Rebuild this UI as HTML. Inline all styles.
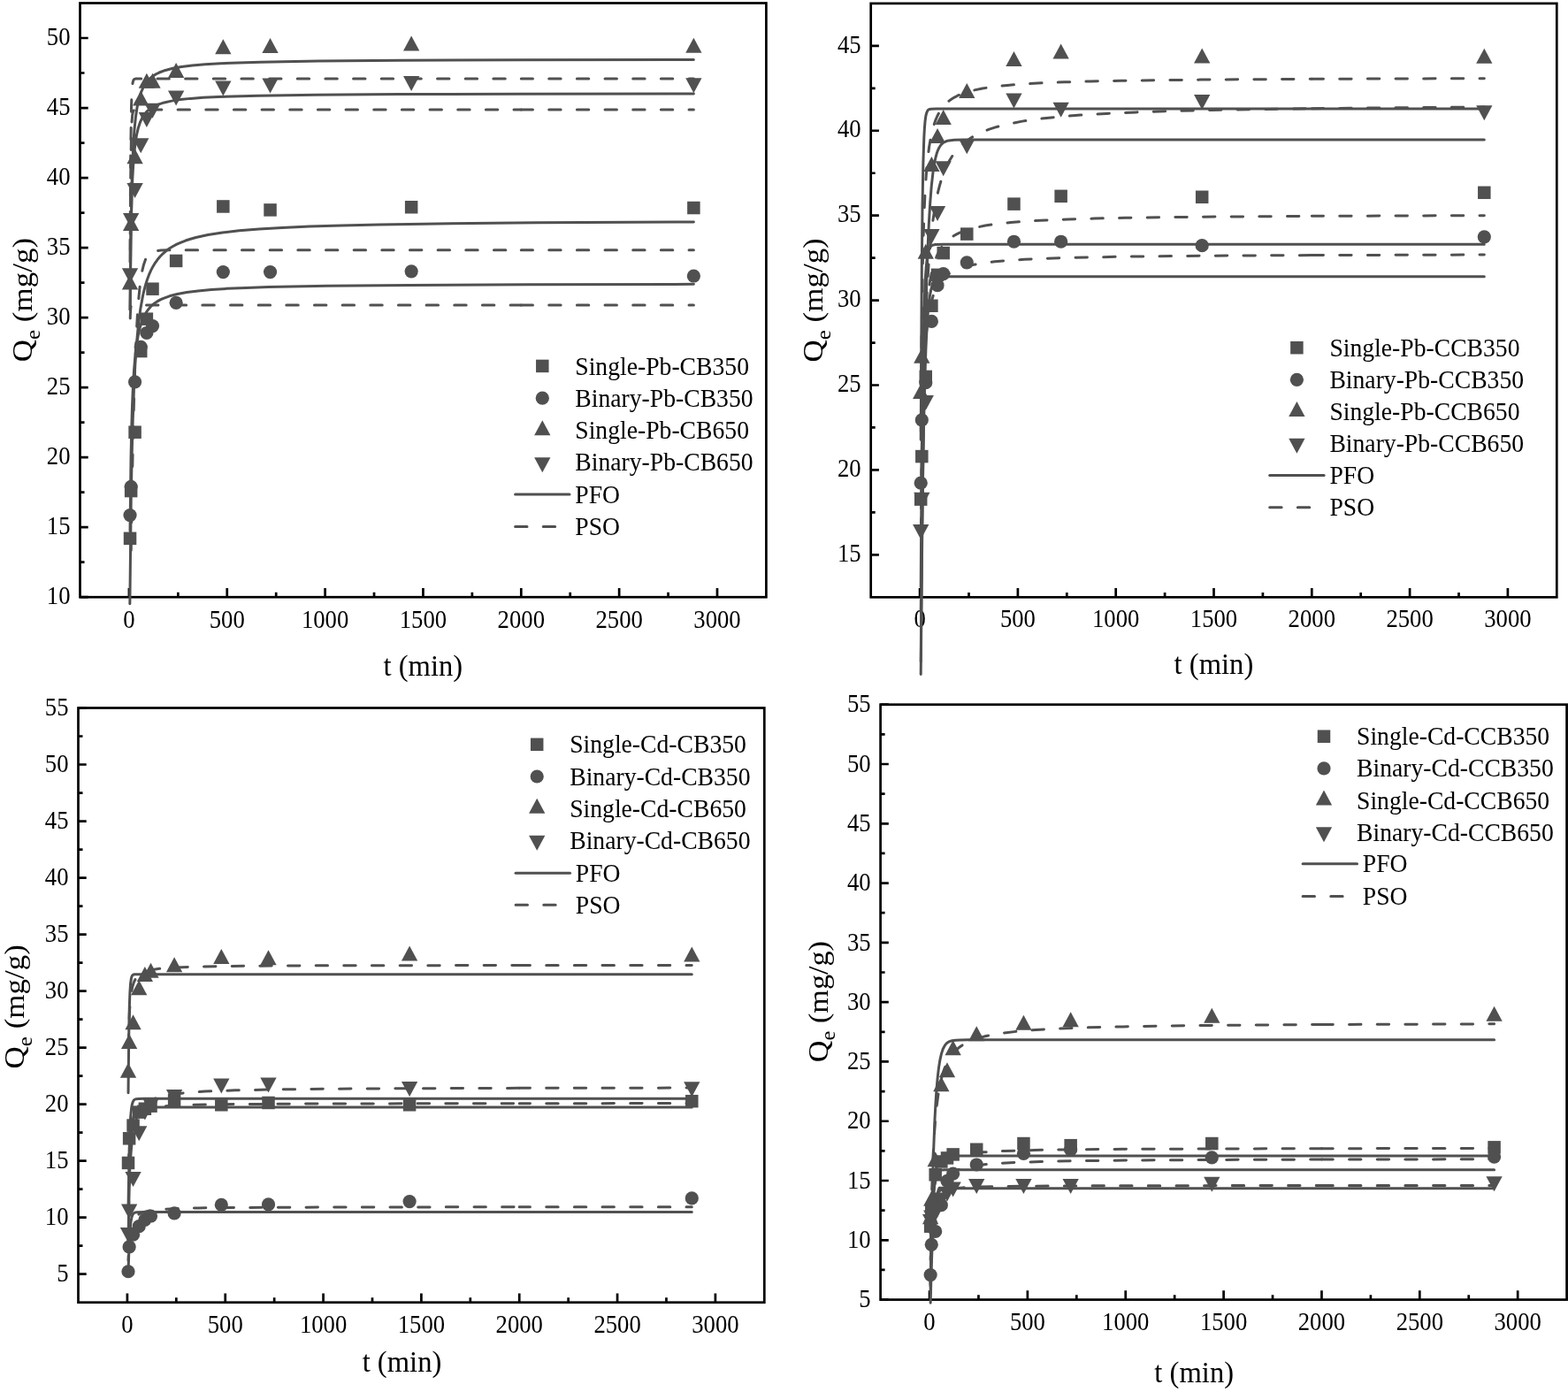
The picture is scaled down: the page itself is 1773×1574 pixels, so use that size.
<!DOCTYPE html>
<html><head><meta charset="utf-8"><title>Kinetics</title><style>html,body{margin:0;padding:0;background:#fff;}svg{display:block;}</style></head><body>
<svg width="1773" height="1574" viewBox="0 0 1773 1574" font-family="&quot;Liberation Serif&quot;, &quot;Times New Roman&quot;, serif" fill="#000">
<rect width="100%" height="100%" fill="#fff"/>
<rect x="90.5" y="3.5" width="775.9" height="671.7" fill="none" stroke="#000" stroke-width="2.7"/>
<path d="M145.92 675.2V664.9M256.76 675.2V664.9M367.61 675.2V664.9M478.45 675.2V664.9M589.29 675.2V664.9M700.14 675.2V664.9M810.98 675.2V664.9M201.34 675.2V669.8M312.19 675.2V669.8M423.03 675.2V669.8M533.87 675.2V669.8M644.71 675.2V669.8M755.56 675.2V669.8M90.5 675.2H99.7M90.5 596.18H99.7M90.5 517.15H99.7M90.5 438.13H99.7M90.5 359.11H99.7M90.5 280.08H99.7M90.5 201.06H99.7M90.5 122.04H99.7M90.5 43.01H99.7M90.5 635.69H95.5M90.5 556.66H95.5M90.5 477.64H95.5M90.5 398.62H95.5M90.5 319.59H95.5M90.5 240.57H95.5M90.5 161.55H95.5M90.5 82.52H95.5" stroke="#000" stroke-width="2.7" fill="none"/>
<text transform="translate(145.92 709.5) scale(0.92 1)" font-size="29" text-anchor="middle">0</text>
<text transform="translate(256.76 709.5) scale(0.92 1)" font-size="29" text-anchor="middle">500</text>
<text transform="translate(367.61 709.5) scale(0.92 1)" font-size="29" text-anchor="middle">1000</text>
<text transform="translate(478.45 709.5) scale(0.92 1)" font-size="29" text-anchor="middle">1500</text>
<text transform="translate(589.29 709.5) scale(0.92 1)" font-size="29" text-anchor="middle">2000</text>
<text transform="translate(700.14 709.5) scale(0.92 1)" font-size="29" text-anchor="middle">2500</text>
<text transform="translate(810.98 709.5) scale(0.92 1)" font-size="29" text-anchor="middle">3000</text>
<text transform="translate(79.5 682.9) scale(0.92 1)" font-size="29" text-anchor="end">10</text>
<text transform="translate(79.5 603.88) scale(0.92 1)" font-size="29" text-anchor="end">15</text>
<text transform="translate(79.5 524.85) scale(0.92 1)" font-size="29" text-anchor="end">20</text>
<text transform="translate(79.5 445.83) scale(0.92 1)" font-size="29" text-anchor="end">25</text>
<text transform="translate(79.5 366.81) scale(0.92 1)" font-size="29" text-anchor="end">30</text>
<text transform="translate(79.5 287.78) scale(0.92 1)" font-size="29" text-anchor="end">35</text>
<text transform="translate(79.5 208.76) scale(0.92 1)" font-size="29" text-anchor="end">40</text>
<text transform="translate(79.5 129.74) scale(0.92 1)" font-size="29" text-anchor="end">45</text>
<text transform="translate(79.5 50.71) scale(0.92 1)" font-size="29" text-anchor="end">50</text>
<text transform="translate(478.3 763.9) scale(0.946 1)" font-size="34.5" text-anchor="middle">t (min)</text>
<text transform="translate(36.2 339.1) rotate(-90) scale(1 0.93)" font-size="35" text-anchor="middle">Q<tspan font-size="25" dy="9.6">e</tspan><tspan dy="-9.6"> (mg/g)</tspan></text>
<path d="M146.85 682.75L148.24 562.25L149.12 515.21L150.15 475.59L151.37 441.64L152.8 412.71L154.48 388.19L156.45 367.38L158.76 349.64L161.5 334.49L163.05 327.77L164.71 321.62L166.52 315.94L168.48 310.72L170.6 305.88L172.9 301.43L175.41 297.31L178.12 293.52L181.05 290.02L184.24 286.79L187.7 283.81L191.45 281.06L195.61 278.47L199.97 276.17L204.72 274.03L209.87 272.05L215.42 270.24L221.56 268.53L235.23 265.55L251.47 262.99L270.49 260.82L292.88 258.97L319.03 257.41L349.93 256.07L386.18 254.94L428.78 253.98L478.9 253.15L607.07 251.86L784.38 250.92" fill="none" stroke="#505050" stroke-width="3.0" stroke-linecap="round" stroke-linejoin="round"/>
<path d="M147.03 600.45L148.04 518.54L148.7 486.59L149.48 460.13L150.42 437.66L151.53 418.88L152.84 403.21L154.41 389.94L156.28 378.78L158.5 369.45L161.16 361.58L162.66 358.15L164.3 354.99L166.09 352.1L168.05 349.44L170.18 347.01L172.5 344.79L175.04 342.75L177.8 340.87L180.82 339.16L184.12 337.58L191.65 334.82L200.56 332.5L211.26 330.54L223.94 328.9L238.99 327.52L256.82 326.37L278.22 325.39L303.57 324.58L369.74 323.31L463.45 322.42L596.18 321.79L784.38 321.34" fill="none" stroke="#505050" stroke-width="3.0" stroke-linecap="round" stroke-linejoin="round"/>
<path d="M147.12 350.5L147.95 263.89L149.15 203.93L149.94 180.91L150.87 162L152.01 146.03L153.36 132.83L154.99 121.8L156.93 112.64L159.26 104.99L162.06 98.59L163.66 95.82L165.42 93.27L167.34 90.94L169.44 88.83L171.75 86.9L174.28 85.12L177.04 83.51L180.07 82.03L187.05 79.45L195.41 77.3L205.31 75.53L217.4 74.02L231.86 72.78L249.1 71.74L269.7 70.88L294.46 70.16L360.03 69.06L454.13 68.29L589.64 67.76L784.38 67.39" fill="none" stroke="#505050" stroke-width="3.0" stroke-linecap="round" stroke-linejoin="round"/>
<path d="M147.1 350.32L147.89 274.61L149.02 222.55L149.77 202.81L150.67 186.5L151.75 172.83L153.04 161.48L154.59 152.04L156.47 144.17L158.73 137.6L161.43 132.16L162.99 129.79L164.68 127.63L166.55 125.65L168.6 123.86L170.84 122.22L173.3 120.72L178.98 118.11L185.81 115.93L194.02 114.12L203.93 112.61L215.62 111.38L229.88 110.34L246.92 109.48L291.89 108.17L357.06 107.25L451.36 106.62L587.66 106.18L784.38 105.88" fill="none" stroke="#505050" stroke-width="3.0" stroke-linecap="round" stroke-linejoin="round"/>
<path d="M147.03 281.94L147.68 176.57L148.54 119.54L149.09 104.68L149.78 95.75L150.2 93.06L150.71 91.2L151.34 90.02L152.19 89.36L153.7 89.06L157.35 89L589.29 89" fill="none" stroke="#505050" stroke-width="3.0" stroke-linecap="round" stroke-linejoin="round" stroke-dasharray="13.4 18.26" stroke-dashoffset="2.54"/>
<path d="M589.29 89L784.38 89" fill="none" stroke="#505050" stroke-width="3.0" stroke-linecap="round" stroke-linejoin="round" stroke-dasharray="13.4 18.26" stroke-dashoffset="0.23"/>
<path d="M147.03 298.97L147.65 204.03L148.49 151.9L149 138.53L149.68 130.23L150.1 127.71L150.59 126.04L151.21 124.98L152.03 124.41L153.49 124.14L157.03 124.09L589.29 124.09" fill="none" stroke="#505050" stroke-width="3.0" stroke-linecap="round" stroke-linejoin="round" stroke-dasharray="13.4 18.26" stroke-dashoffset="28.88"/>
<path d="M589.29 124.09L784.38 124.09" fill="none" stroke="#505050" stroke-width="3.0" stroke-linecap="round" stroke-linejoin="round" stroke-dasharray="13.4 18.26" stroke-dashoffset="0.23"/>
<path d="M148.14 626.82L149.63 533.69L151.28 459.35L153.17 401.25L154.21 377.82L155.33 357.67L156.51 341.1L157.79 327.25L159.19 315.8L160.76 306.43L162.51 299.13L164.49 293.52L165.6 291.26L166.79 289.37L168.1 287.77L169.54 286.45L171.02 285.46L172.66 284.67L176.66 283.58L182.04 283.03L190.66 282.81L589.29 282.77" fill="none" stroke="#505050" stroke-width="3.0" stroke-linecap="round" stroke-linejoin="round" stroke-dasharray="13.4 18.26" stroke-dashoffset="27.23"/>
<path d="M589.29 282.77L784.38 282.77" fill="none" stroke="#505050" stroke-width="3.0" stroke-linecap="round" stroke-linejoin="round" stroke-dasharray="13.4 18.26" stroke-dashoffset="0.23"/>
<path d="M147.03 370.59L147.33 356.46L147.76 348.65L148.04 346.78L148.38 345.73L148.86 345.24L149.68 345.06L589.29 345.04" fill="none" stroke="#505050" stroke-width="3.0" stroke-linecap="round" stroke-linejoin="round" stroke-dasharray="13.4 18.26" stroke-dashoffset="21"/>
<path d="M589.29 345.04L784.38 345.04" fill="none" stroke="#505050" stroke-width="3.0" stroke-linecap="round" stroke-linejoin="round" stroke-dasharray="13.4 18.26" stroke-dashoffset="0.23"/>
<g fill="#505050"><rect x="139.78" y="601.57" width="14.5" height="14.5"/><rect x="140.89" y="547.83" width="14.5" height="14.5"/><rect x="145.32" y="481.45" width="14.5" height="14.5"/><rect x="151.97" y="389.79" width="14.5" height="14.5"/><rect x="158.62" y="353.44" width="14.5" height="14.5"/><rect x="165.27" y="319.46" width="14.5" height="14.5"/><rect x="191.88" y="287.69" width="14.5" height="14.5"/><rect x="245.08" y="226.21" width="14.5" height="14.5"/><rect x="298.29" y="230.16" width="14.5" height="14.5"/><rect x="457.9" y="227" width="14.5" height="14.5"/><rect x="777.13" y="227.79" width="14.5" height="14.5"/></g>
<g fill="#505050"><circle cx="147.03" cy="582.58" r="7.6"/><circle cx="148.14" cy="550.34" r="7.6"/><circle cx="152.57" cy="431.81" r="7.6"/><circle cx="159.22" cy="392.3" r="7.6"/><circle cx="165.87" cy="376.49" r="7.6"/><circle cx="172.52" cy="368.59" r="7.6"/><circle cx="199.13" cy="342.35" r="7.6"/><circle cx="252.33" cy="307.58" r="7.6"/><circle cx="305.54" cy="307.58" r="7.6"/><circle cx="465.15" cy="306.79" r="7.6"/><circle cx="784.38" cy="312.01" r="7.6"/></g>
<g fill="#505050"><path d="M147.03 310.39L156.18 327.39L137.88 327.39Z"/><path d="M148.14 244.01L157.29 261.01L138.99 261.01Z"/><path d="M152.57 168.15L161.72 185.15L143.42 185.15Z"/><path d="M159.22 102.4L168.37 119.4L150.07 119.4Z"/><path d="M165.87 82.81L175.02 99.81L156.72 99.81Z"/><path d="M172.52 82.81L181.67 99.81L163.37 99.81Z"/><path d="M199.13 70.95L208.28 87.95L189.98 87.95Z"/><path d="M252.33 44.24L261.48 61.24L243.18 61.24Z"/><path d="M305.54 42.98L314.69 59.98L296.39 59.98Z"/><path d="M465.15 40.45L474.3 57.45L456 57.45Z"/><path d="M784.38 42.82L793.53 59.82L775.23 59.82Z"/></g>
<g fill="#505050"><path d="M137.88 303.31L156.18 303.31L147.03 320.31Z"/><path d="M138.99 240.88L157.29 240.88L148.14 257.88Z"/><path d="M143.42 206.9L161.72 206.9L152.57 223.9Z"/><path d="M150.07 156.33L168.37 156.33L159.22 173.33Z"/><path d="M156.72 127.09L175.02 127.09L165.87 144.09Z"/><path d="M163.37 116.82L181.67 116.82L172.52 133.82Z"/><path d="M189.98 102.59L208.28 102.59L199.13 119.59Z"/><path d="M243.18 91.53L261.48 91.53L252.33 108.53Z"/><path d="M296.39 88.53L314.69 88.53L305.54 105.53Z"/><path d="M456 86L474.3 86L465.15 103Z"/><path d="M775.23 88.37L793.53 88.37L784.38 105.37Z"/></g>
<g fill="#505050"><rect x="606.05" y="406.65" width="14.5" height="14.5"/></g>
<text transform="translate(650.3 423.5) scale(0.944 1)" font-size="29.3" text-anchor="start">Single-Pb-CB350</text>
<g fill="#505050"><circle cx="613.3" cy="450.2" r="7.6"/></g>
<text transform="translate(650.3 459.8) scale(0.944 1)" font-size="29.3" text-anchor="start">Binary-Pb-CB350</text>
<g fill="#505050"><path d="M613.3 475.17L622.45 492.17L604.15 492.17Z"/></g>
<text transform="translate(650.3 496.1) scale(0.944 1)" font-size="29.3" text-anchor="start">Single-Pb-CB650</text>
<g fill="#505050"><path d="M604.15 517.13L622.45 517.13L613.3 534.13Z"/></g>
<text transform="translate(650.3 532.4) scale(0.944 1)" font-size="29.3" text-anchor="start">Binary-Pb-CB650</text>
<path d="M582.6 559.1H644" stroke="#505050" stroke-width="3.0" stroke-linecap="round"/>
<text transform="translate(650.3 568.7) scale(0.944 1)" font-size="29.3" text-anchor="start">PFO</text>
<path d="M582.6 595.4H644" stroke="#505050" stroke-width="3.0" stroke-linecap="round" stroke-dasharray="13.4 18.26"/>
<text transform="translate(650.3 605) scale(0.944 1)" font-size="29.3" text-anchor="start">PSO</text>
<rect x="984.7" y="3.9" width="775.6" height="671.4" fill="none" stroke="#000" stroke-width="2.7"/>
<path d="M1040.1 675.3V665M1150.9 675.3V665M1261.7 675.3V665M1372.5 675.3V665M1483.3 675.3V665M1594.1 675.3V665M1704.9 675.3V665M1095.5 675.3V669.9M1206.3 675.3V669.9M1317.1 675.3V669.9M1427.9 675.3V669.9M1538.7 675.3V669.9M1649.5 675.3V669.9M984.7 627.34H993.9M984.7 531.43H993.9M984.7 435.51H993.9M984.7 339.6H993.9M984.7 243.69H993.9M984.7 147.77H993.9M984.7 51.86H993.9M984.7 579.39H989.7M984.7 483.47H989.7M984.7 387.56H989.7M984.7 291.64H989.7M984.7 195.73H989.7M984.7 99.81H989.7" stroke="#000" stroke-width="2.7" fill="none"/>
<text transform="translate(1040.1 708.6) scale(0.92 1)" font-size="29" text-anchor="middle">0</text>
<text transform="translate(1150.9 708.6) scale(0.92 1)" font-size="29" text-anchor="middle">500</text>
<text transform="translate(1261.7 708.6) scale(0.92 1)" font-size="29" text-anchor="middle">1000</text>
<text transform="translate(1372.5 708.6) scale(0.92 1)" font-size="29" text-anchor="middle">1500</text>
<text transform="translate(1483.3 708.6) scale(0.92 1)" font-size="29" text-anchor="middle">2000</text>
<text transform="translate(1594.1 708.6) scale(0.92 1)" font-size="29" text-anchor="middle">2500</text>
<text transform="translate(1704.9 708.6) scale(0.92 1)" font-size="29" text-anchor="middle">3000</text>
<text transform="translate(973.7 635.04) scale(0.92 1)" font-size="29" text-anchor="end">15</text>
<text transform="translate(973.7 539.13) scale(0.92 1)" font-size="29" text-anchor="end">20</text>
<text transform="translate(973.7 443.21) scale(0.92 1)" font-size="29" text-anchor="end">25</text>
<text transform="translate(973.7 347.3) scale(0.92 1)" font-size="29" text-anchor="end">30</text>
<text transform="translate(973.7 251.39) scale(0.92 1)" font-size="29" text-anchor="end">35</text>
<text transform="translate(973.7 155.47) scale(0.92 1)" font-size="29" text-anchor="end">40</text>
<text transform="translate(973.7 59.56) scale(0.92 1)" font-size="29" text-anchor="end">45</text>
<text transform="translate(1372.4 762) scale(0.946 1)" font-size="34.5" text-anchor="middle">t (min)</text>
<text transform="translate(930.4 339.4) rotate(-90) scale(1 0.93)" font-size="35" text-anchor="middle">Q<tspan font-size="25" dy="9.6">e</tspan><tspan dy="-9.6"> (mg/g)</tspan></text>
<path d="M1041.21 497.17L1042.35 296.17L1043.04 231.44L1043.87 184.6L1044.82 155.37L1045.39 145.14L1046.03 137.28L1046.77 131.7L1047.65 127.81L1048.73 125.33L1049.39 124.49L1050.17 123.89L1051.31 123.43L1052.84 123.17L1059.12 123.03L1678.31 123.03" fill="none" stroke="#505050" stroke-width="3.0" stroke-linecap="round" stroke-linejoin="round"/>
<path d="M1041.21 762.53L1042.81 594.87L1044.61 461.03L1046.65 357.98L1047.79 316.7L1049.03 281.38L1050.33 252.8L1051.74 229.15L1053.31 209.7L1055.07 194.16L1057.03 182.27L1058.11 177.48L1059.28 173.35L1060.54 169.85L1061.93 166.94L1063.46 164.54L1065.16 162.61L1066.75 161.31L1068.56 160.28L1070.59 159.49L1072.95 158.9L1078.96 158.22L1088.97 157.98L1678.31 157.94" fill="none" stroke="#505050" stroke-width="3.0" stroke-linecap="round" stroke-linejoin="round"/>
<path d="M1041.21 663.74L1041.99 549.02L1042.87 459.73L1043.87 392.65L1045.06 344.57L1046.41 313.35L1047.22 302.04L1048.12 293.39L1049.15 287.07L1050.37 282.49L1051.86 279.47L1052.74 278.43L1053.76 277.64L1055.42 276.93L1057.61 276.53L1066.26 276.3L1678.31 276.3" fill="none" stroke="#505050" stroke-width="3.0" stroke-linecap="round" stroke-linejoin="round"/>
<path d="M1041.21 747.95L1042.36 623.1L1043.66 524.9L1045.14 450.02L1046.87 395.41L1047.82 375.29L1048.86 358.88L1050.01 345.64L1051.31 335.23L1052.78 327.36L1054.48 321.62L1055.44 319.43L1056.51 317.63L1057.71 316.19L1059.05 315.07L1061.5 313.88L1064.69 313.19L1069.1 312.87L1076.78 312.76L1678.31 312.74" fill="none" stroke="#505050" stroke-width="3.0" stroke-linecap="round" stroke-linejoin="round"/>
<path d="M1041.21 501.35L1042.09 383.78L1043.3 300.43L1044.08 267.81L1044.98 240.45L1046.06 217.04L1047.33 197.31L1048.83 180.54L1050.6 166.3L1052.69 154.24L1055.17 143.98L1058.08 135.33L1059.74 131.48L1061.52 127.98L1063.47 124.74L1065.59 121.75L1067.88 119.01L1070.37 116.49L1073.08 114.16L1076.02 112.03L1079.22 110.05L1082.69 108.24L1086.42 106.59L1090.54 105.04L1099.85 102.32L1110.89 100L1123.79 98.06L1139.08 96.4L1157.04 95.01L1178.32 93.82L1203.46 92.81L1232.99 91.96L1267.97 91.24L1358.01 90.11L1483.3 89.3" fill="none" stroke="#505050" stroke-width="3.0" stroke-linecap="round" stroke-linejoin="round" stroke-dasharray="13.4 18.26" stroke-dashoffset="18.22"/>
<path d="M1483.3 89.3L1678.31 88.67" fill="none" stroke="#505050" stroke-width="3.0" stroke-linecap="round" stroke-linejoin="round" stroke-dasharray="13.4 18.26" stroke-dashoffset="0.26"/>
<path d="M1041.21 696.13L1042.59 548.44L1043.44 490L1044.44 439.01L1045.59 394.97L1046.91 357.21L1048.46 324.45L1050.26 295.96L1052.33 271.53L1054.72 250.54L1057.5 232.34L1060.73 216.6L1062.53 209.56L1064.46 203.04L1066.54 197L1068.79 191.34L1071.21 186.09L1073.8 181.23L1076.6 176.71L1079.61 172.5L1082.82 168.63L1086.28 165.02L1090.01 161.67L1094.13 158.47L1098.52 155.54L1103.17 152.85L1108.23 150.33L1113.55 148.04L1119.4 145.87L1125.65 143.86L1132.43 141.98L1139.62 140.26L1155.84 137.14L1174.73 134.44L1196.54 132.12L1221.81 130.11L1251.07 128.38L1284.86 126.89L1324.09 125.6L1369.58 124.49L1422.25 123.53L1483.3 122.7" fill="none" stroke="#505050" stroke-width="3.0" stroke-linecap="round" stroke-linejoin="round" stroke-dasharray="13.4 18.26" stroke-dashoffset="27.73"/>
<path d="M1483.3 122.7L1572 121.83L1678.31 121.11" fill="none" stroke="#505050" stroke-width="3.0" stroke-linecap="round" stroke-linejoin="round" stroke-dasharray="13.4 18.26" stroke-dashoffset="0.26"/>
<path d="M1041.21 623.85L1042.19 518.2L1043.53 442.4L1044.38 412.69L1045.39 387.17L1046.55 365.76L1047.94 347.35L1049.57 331.66L1051.47 318.38L1053.71 307.01L1056.35 297.35L1059.45 289.13L1061.19 285.5L1063.09 282.12L1065.16 279.02L1067.37 276.17L1069.78 273.54L1072.39 271.11L1075.21 268.88L1078.28 266.81L1081.61 264.9L1085.22 263.13L1093.33 260.02L1102.91 257.36L1114.21 255.08L1127.38 253.16L1142.94 251.52L1161.16 250.13L1182.58 248.94L1207.72 247.93L1237.37 247.07L1272.09 246.34L1360.8 245.18L1483.3 244.35" fill="none" stroke="#505050" stroke-width="3.0" stroke-linecap="round" stroke-linejoin="round" stroke-dasharray="13.4 18.26" stroke-dashoffset="14.33"/>
<path d="M1483.3 244.35L1678.31 243.68" fill="none" stroke="#505050" stroke-width="3.0" stroke-linecap="round" stroke-linejoin="round" stroke-dasharray="13.4 18.26" stroke-dashoffset="0.26"/>
<path d="M1041.21 617.39L1042.12 524.95L1043.37 458.62L1044.18 432.5L1045.11 410.65L1046.24 391.76L1047.55 375.91L1049.09 362.47L1050.92 350.99L1053.07 341.29L1055.6 333.04L1058.59 326.05L1060.27 322.96L1062.1 320.12L1064.09 317.49L1066.24 315.09L1068.57 312.87L1071.11 310.82L1073.86 308.94L1076.84 307.2L1083.6 304.13L1091.6 301.5L1100.91 299.3L1111.95 297.42L1124.99 295.82L1140.41 294.46L1158.5 293.31L1179.78 292.33L1204.92 291.5L1269.43 290.2L1358.94 289.26L1483.3 288.59" fill="none" stroke="#505050" stroke-width="3.0" stroke-linecap="round" stroke-linejoin="round" stroke-dasharray="13.4 18.26" stroke-dashoffset="14.37"/>
<path d="M1483.3 288.59L1678.31 288.06" fill="none" stroke="#505050" stroke-width="3.0" stroke-linecap="round" stroke-linejoin="round" stroke-dasharray="13.4 18.26" stroke-dashoffset="0.26"/>
<g fill="#505050"><rect x="1033.96" y="557.36" width="14.5" height="14.5"/><rect x="1035.07" y="508.83" width="14.5" height="14.5"/><rect x="1039.5" y="418.67" width="14.5" height="14.5"/><rect x="1046.15" y="338.49" width="14.5" height="14.5"/><rect x="1052.79" y="303.58" width="14.5" height="14.5"/><rect x="1059.44" y="278.83" width="14.5" height="14.5"/><rect x="1086.03" y="257.35" width="14.5" height="14.5"/><rect x="1139.22" y="223.39" width="14.5" height="14.5"/><rect x="1192.4" y="214.57" width="14.5" height="14.5"/><rect x="1351.95" y="215.53" width="14.5" height="14.5"/><rect x="1671.06" y="210.54" width="14.5" height="14.5"/></g>
<g fill="#505050"><circle cx="1041.21" cy="546.2" r="7.6"/><circle cx="1042.32" cy="474.84" r="7.6"/><circle cx="1046.75" cy="432.64" r="7.6"/><circle cx="1053.4" cy="363.39" r="7.6"/><circle cx="1060.04" cy="322.72" r="7.6"/><circle cx="1066.69" cy="309.67" r="7.6"/><circle cx="1093.28" cy="296.82" r="7.6"/><circle cx="1146.47" cy="273.23" r="7.6"/><circle cx="1199.65" cy="273.23" r="7.6"/><circle cx="1359.2" cy="277.64" r="7.6"/><circle cx="1678.31" cy="267.86" r="7.6"/></g>
<g fill="#505050"><path d="M1041.21 433.99L1050.36 450.99L1032.06 450.99Z"/><path d="M1042.32 393.7L1051.47 410.7L1033.17 410.7Z"/><path d="M1046.75 275.73L1055.9 292.73L1037.6 292.73Z"/><path d="M1053.4 176.94L1062.55 193.94L1044.25 193.94Z"/><path d="M1060.04 144.9L1069.19 161.9L1050.89 161.9Z"/><path d="M1066.69 123.99L1075.84 140.99L1057.54 140.99Z"/><path d="M1093.28 94.07L1102.43 111.07L1084.13 111.07Z"/><path d="M1146.47 58L1155.62 75L1137.32 75Z"/><path d="M1199.65 49.56L1208.8 66.56L1190.5 66.56Z"/><path d="M1359.2 54.55L1368.35 71.55L1350.05 71.55Z"/><path d="M1678.31 54.74L1687.46 71.74L1669.16 71.74Z"/></g>
<g fill="#505050"><path d="M1032.06 593.11L1050.36 593.11L1041.21 610.11Z"/><path d="M1033.17 556.66L1051.47 556.66L1042.32 573.66Z"/><path d="M1037.6 446.94L1055.9 446.94L1046.75 463.94Z"/><path d="M1044.25 258.95L1062.55 258.95L1053.4 275.95Z"/><path d="M1050.89 233.05L1069.19 233.05L1060.04 250.05Z"/><path d="M1057.54 182.21L1075.84 182.21L1066.69 199.21Z"/><path d="M1084.13 157.28L1102.43 157.28L1093.28 174.28Z"/><path d="M1137.32 105.48L1155.62 105.48L1146.47 122.48Z"/><path d="M1190.5 115.65L1208.8 115.65L1199.65 132.65Z"/><path d="M1350.05 107.02L1368.35 107.02L1359.2 124.02Z"/><path d="M1669.16 119.29L1687.46 119.29L1678.31 136.29Z"/></g>
<g fill="#505050"><rect x="1459.15" y="385.95" width="14.5" height="14.5"/></g>
<text transform="translate(1503.4 402.8) scale(0.944 1)" font-size="29.3" text-anchor="start">Single-Pb-CCB350</text>
<g fill="#505050"><circle cx="1466.4" cy="429.3" r="7.6"/></g>
<text transform="translate(1503.4 438.9) scale(0.944 1)" font-size="29.3" text-anchor="start">Binary-Pb-CCB350</text>
<g fill="#505050"><path d="M1466.4 454.07L1475.55 471.07L1457.25 471.07Z"/></g>
<text transform="translate(1503.4 475) scale(0.944 1)" font-size="29.3" text-anchor="start">Single-Pb-CCB650</text>
<g fill="#505050"><path d="M1457.25 495.83L1475.55 495.83L1466.4 512.83Z"/></g>
<text transform="translate(1503.4 511.1) scale(0.944 1)" font-size="29.3" text-anchor="start">Binary-Pb-CCB650</text>
<path d="M1435.7 537.6H1497.1" stroke="#505050" stroke-width="3.0" stroke-linecap="round"/>
<text transform="translate(1503.4 547.2) scale(0.944 1)" font-size="29.3" text-anchor="start">PFO</text>
<path d="M1435.7 573.7H1497.1" stroke="#505050" stroke-width="3.0" stroke-linecap="round" stroke-dasharray="13.4 18.26"/>
<text transform="translate(1503.4 583.3) scale(0.944 1)" font-size="29.3" text-anchor="start">PSO</text>
<rect x="88.5" y="800.5" width="775.8" height="672.2" fill="none" stroke="#000" stroke-width="2.7"/>
<path d="M143.91 1472.7V1462.4M254.74 1472.7V1462.4M365.57 1472.7V1462.4M476.4 1472.7V1462.4M587.23 1472.7V1462.4M698.06 1472.7V1462.4M808.89 1472.7V1462.4M199.33 1472.7V1467.3M310.16 1472.7V1467.3M420.99 1472.7V1467.3M531.81 1472.7V1467.3M642.64 1472.7V1467.3M753.47 1472.7V1467.3M88.5 1440.69H97.7M88.5 1376.67H97.7M88.5 1312.65H97.7M88.5 1248.63H97.7M88.5 1184.61H97.7M88.5 1120.6H97.7M88.5 1056.58H97.7M88.5 992.56H97.7M88.5 928.54H97.7M88.5 864.52H97.7M88.5 800.5H97.7M88.5 1408.68H93.5M88.5 1344.66H93.5M88.5 1280.64H93.5M88.5 1216.62H93.5M88.5 1152.6H93.5M88.5 1088.59H93.5M88.5 1024.57H93.5M88.5 960.55H93.5M88.5 896.53H93.5M88.5 832.51H93.5" stroke="#000" stroke-width="2.7" fill="none"/>
<text transform="translate(143.91 1507) scale(0.92 1)" font-size="29" text-anchor="middle">0</text>
<text transform="translate(254.74 1507) scale(0.92 1)" font-size="29" text-anchor="middle">500</text>
<text transform="translate(365.57 1507) scale(0.92 1)" font-size="29" text-anchor="middle">1000</text>
<text transform="translate(476.4 1507) scale(0.92 1)" font-size="29" text-anchor="middle">1500</text>
<text transform="translate(587.23 1507) scale(0.92 1)" font-size="29" text-anchor="middle">2000</text>
<text transform="translate(698.06 1507) scale(0.92 1)" font-size="29" text-anchor="middle">2500</text>
<text transform="translate(808.89 1507) scale(0.92 1)" font-size="29" text-anchor="middle">3000</text>
<text transform="translate(77.5 1449.39) scale(0.92 1)" font-size="29" text-anchor="end">5</text>
<text transform="translate(77.5 1385.37) scale(0.92 1)" font-size="29" text-anchor="end">10</text>
<text transform="translate(77.5 1321.35) scale(0.92 1)" font-size="29" text-anchor="end">15</text>
<text transform="translate(77.5 1257.33) scale(0.92 1)" font-size="29" text-anchor="end">20</text>
<text transform="translate(77.5 1193.31) scale(0.92 1)" font-size="29" text-anchor="end">25</text>
<text transform="translate(77.5 1129.3) scale(0.92 1)" font-size="29" text-anchor="end">30</text>
<text transform="translate(77.5 1065.28) scale(0.92 1)" font-size="29" text-anchor="end">35</text>
<text transform="translate(77.5 1001.26) scale(0.92 1)" font-size="29" text-anchor="end">40</text>
<text transform="translate(77.5 937.24) scale(0.92 1)" font-size="29" text-anchor="end">45</text>
<text transform="translate(77.5 873.22) scale(0.92 1)" font-size="29" text-anchor="end">50</text>
<text transform="translate(77.5 809.2) scale(0.92 1)" font-size="29" text-anchor="end">55</text>
<text transform="translate(454.5 1550.6) scale(0.946 1)" font-size="34.5" text-anchor="middle">t (min)</text>
<text transform="translate(27.3 1138.3) rotate(-90) scale(1 0.93)" font-size="35" text-anchor="middle">Q<tspan font-size="25" dy="9.6">e</tspan><tspan dy="-9.6"> (mg/g)</tspan></text>
<path d="M145.02 1235.81L145.82 1162.73L146.31 1139.21L146.9 1122.54L147.57 1112.31L148.44 1106.17L148.97 1104.31L149.62 1103.04L150.43 1102.27L151.52 1101.86L158.01 1101.65L782.29 1101.65" fill="none" stroke="#505050" stroke-width="3.0" stroke-linecap="round" stroke-linejoin="round"/>
<path d="M145.02 1366.28L146.16 1299.71L146.85 1278.27L147.69 1262.76L148.64 1253.07L149.2 1249.68L149.85 1247.08L150.59 1245.23L151.46 1243.94L152.55 1243.12L153.99 1242.65L156.65 1242.41L162.94 1242.36L782.29 1242.36" fill="none" stroke="#505050" stroke-width="3.0" stroke-linecap="round" stroke-linejoin="round"/>
<path d="M145.02 1405.31L145.8 1359.94L146.68 1324.63L147.69 1298.11L148.87 1279.09L150.23 1266.74L151.03 1262.27L151.94 1258.85L152.96 1256.35L154.19 1254.54L155.67 1253.34L157.58 1252.62L161.42 1252.18L170.09 1252.09L782.29 1252.09" fill="none" stroke="#505050" stroke-width="3.0" stroke-linecap="round" stroke-linejoin="round"/>
<path d="M145.02 1438.17L146.26 1401.97L147.03 1390.13L147.92 1381.81L148.94 1376.52L149.55 1374.65L150.25 1373.19L151.05 1372.16L152 1371.43L153.17 1370.97L154.69 1370.7L164.34 1370.53L782.29 1370.53" fill="none" stroke="#505050" stroke-width="3.0" stroke-linecap="round" stroke-linejoin="round"/>
<path d="M145.02 1194.85L145.66 1163.74L146.56 1141.92L147.86 1126.67L148.7 1120.91L149.71 1116.04L150.9 1111.99L152.34 1108.58L154.06 1105.73L156.11 1103.36L158.56 1101.37L161.48 1099.7L164.98 1098.3L169.16 1097.13L174.16 1096.16L180.15 1095.34L195.83 1094.08L218.18 1093.2L250.11 1092.59L295.74 1092.15L360.93 1091.85L587.23 1091.49" fill="none" stroke="#505050" stroke-width="3.0" stroke-linecap="round" stroke-linejoin="round" stroke-dasharray="13.4 18.26" stroke-dashoffset="20.3"/>
<path d="M587.23 1091.49L782.29 1091.39" fill="none" stroke="#505050" stroke-width="3.0" stroke-linecap="round" stroke-linejoin="round" stroke-dasharray="13.4 18.26" stroke-dashoffset="1.17"/>
<path d="M145.02 1388.95L146.02 1345.25L147.39 1313.53L148.25 1301.13L149.27 1290.47L150.47 1281.44L151.88 1273.7L153.54 1267.12L155.47 1261.56L157.75 1256.8L160.42 1252.75L163.56 1249.29L167.23 1246.35L171.56 1243.84L176.63 1241.71L182.58 1239.89L189.58 1238.34L197.82 1237.01L207.4 1235.89L218.71 1234.94L232.02 1234.12L265.81 1232.83L312.5 1231.9L376.76 1231.22L465.23 1230.73L587.23 1230.37" fill="none" stroke="#505050" stroke-width="3.0" stroke-linecap="round" stroke-linejoin="round" stroke-dasharray="13.4 18.26" stroke-dashoffset="14.06"/>
<path d="M587.23 1230.37L782.29 1230.08" fill="none" stroke="#505050" stroke-width="3.0" stroke-linecap="round" stroke-linejoin="round" stroke-dasharray="13.4 18.26" stroke-dashoffset="1.17"/>
<path d="M145.02 1332.85L145.71 1307.7L146.71 1289.76L147.34 1283.01L148.11 1277.27L149.01 1272.46L150.08 1268.47L151.36 1265.09L152.89 1262.24L154.71 1259.86L156.87 1257.86L159.45 1256.17L162.5 1254.77L166.15 1253.58L170.5 1252.58L175.69 1251.74L181.86 1251.04L197.96 1249.95L220.84 1249.18L253.17 1248.65L364.12 1248L587.23 1247.67" fill="none" stroke="#505050" stroke-width="3.0" stroke-linecap="round" stroke-linejoin="round" stroke-dasharray="13.4 18.26" stroke-dashoffset="17.46"/>
<path d="M587.23 1247.67L782.29 1247.58" fill="none" stroke="#505050" stroke-width="3.0" stroke-linecap="round" stroke-linejoin="round" stroke-dasharray="13.4 18.26" stroke-dashoffset="1.17"/>
<path d="M145.02 1425.1L145.82 1407.6L146.91 1395.3L147.62 1390.52L148.47 1386.42L149.46 1383.01L150.64 1380.12L152.04 1377.69L153.7 1375.63L155.66 1373.9L157.99 1372.43L160.76 1371.19L164.03 1370.15L167.91 1369.27L172.51 1368.53L184.41 1367.37L201.15 1366.54L224.57 1365.96L257.43 1365.54L368.38 1365.03L587.23 1364.77" fill="none" stroke="#505050" stroke-width="3.0" stroke-linecap="round" stroke-linejoin="round" stroke-dasharray="13.4 18.26" stroke-dashoffset="8.17"/>
<path d="M587.23 1364.77L782.29 1364.69" fill="none" stroke="#505050" stroke-width="3.0" stroke-linecap="round" stroke-linejoin="round" stroke-dasharray="13.4 18.26" stroke-dashoffset="1.17"/>
<g fill="#505050"><rect x="137.77" y="1307.71" width="14.5" height="14.5"/><rect x="138.88" y="1280.05" width="14.5" height="14.5"/><rect x="143.31" y="1265.33" width="14.5" height="14.5"/><rect x="149.96" y="1250.35" width="14.5" height="14.5"/><rect x="156.61" y="1246.5" width="14.5" height="14.5"/><rect x="163.26" y="1243.43" width="14.5" height="14.5"/><rect x="189.86" y="1236.77" width="14.5" height="14.5"/><rect x="243.06" y="1242.02" width="14.5" height="14.5"/><rect x="296.26" y="1239.72" width="14.5" height="14.5"/><rect x="455.85" y="1242.02" width="14.5" height="14.5"/><rect x="775.04" y="1237.93" width="14.5" height="14.5"/></g>
<g fill="#505050"><circle cx="145.02" cy="1437.75" r="7.6"/><circle cx="146.13" cy="1409.96" r="7.6"/><circle cx="150.56" cy="1396.13" r="7.6"/><circle cx="157.21" cy="1386.66" r="7.6"/><circle cx="163.86" cy="1379.36" r="7.6"/><circle cx="170.51" cy="1375.01" r="7.6"/><circle cx="197.11" cy="1371.93" r="7.6"/><circle cx="250.31" cy="1362.46" r="7.6"/><circle cx="303.51" cy="1361.95" r="7.6"/><circle cx="463.1" cy="1358.62" r="7.6"/><circle cx="782.29" cy="1354.9" r="7.6"/></g>
<g fill="#505050"><path d="M145.02 1201.79L154.17 1218.79L135.87 1218.79Z"/><path d="M146.13 1169.01L155.28 1186.01L136.98 1186.01Z"/><path d="M150.56 1147.25L159.71 1164.25L141.41 1164.25Z"/><path d="M157.21 1108.19L166.36 1125.19L148.06 1125.19Z"/><path d="M163.86 1093.09L173.01 1110.09L154.71 1110.09Z"/><path d="M170.51 1088.73L179.66 1105.73L161.36 1105.73Z"/><path d="M197.11 1082.33L206.26 1099.33L187.96 1099.33Z"/><path d="M250.31 1072.98L259.46 1089.98L241.16 1089.98Z"/><path d="M303.51 1074.26L312.66 1091.26L294.36 1091.26Z"/><path d="M463.1 1069.53L472.25 1086.53L453.95 1086.53Z"/><path d="M782.29 1070.42L791.44 1087.42L773.14 1087.42Z"/></g>
<g fill="#505050"><path d="M135.87 1388.05L154.17 1388.05L145.02 1405.05Z"/><path d="M136.98 1361.55L155.28 1361.55L146.13 1378.55Z"/><path d="M141.41 1325.06L159.71 1325.06L150.56 1342.06Z"/><path d="M148.06 1273.2L166.36 1273.2L157.21 1290.2Z"/><path d="M154.71 1249.52L173.01 1249.52L163.86 1266.52Z"/><path d="M161.36 1242.35L179.66 1242.35L170.51 1259.35Z"/><path d="M187.96 1232.1L206.26 1232.1L197.11 1249.1Z"/><path d="M241.16 1219.55L259.46 1219.55L250.31 1236.55Z"/><path d="M294.36 1218.4L312.66 1218.4L303.51 1235.4Z"/><path d="M453.95 1222.88L472.25 1222.88L463.1 1239.88Z"/><path d="M773.14 1223.27L791.44 1223.27L782.29 1240.27Z"/></g>
<g fill="#505050"><rect x="599.95" y="834.55" width="14.5" height="14.5"/></g>
<text transform="translate(644.2 851.4) scale(0.944 1)" font-size="29.3" text-anchor="start">Single-Cd-CB350</text>
<g fill="#505050"><circle cx="607.2" cy="878" r="7.6"/></g>
<text transform="translate(644.2 887.6) scale(0.944 1)" font-size="29.3" text-anchor="start">Binary-Cd-CB350</text>
<g fill="#505050"><path d="M607.2 902.87L616.35 919.87L598.05 919.87Z"/></g>
<text transform="translate(644.2 923.8) scale(0.944 1)" font-size="29.3" text-anchor="start">Single-Cd-CB650</text>
<g fill="#505050"><path d="M598.05 944.73L616.35 944.73L607.2 961.73Z"/></g>
<text transform="translate(644.2 960) scale(0.944 1)" font-size="29.3" text-anchor="start">Binary-Cd-CB650</text>
<path d="M583.1 987.3H644.5" stroke="#505050" stroke-width="3.0" stroke-linecap="round"/>
<text transform="translate(650.8 996.9) scale(0.944 1)" font-size="29.3" text-anchor="start">PFO</text>
<path d="M583.1 1023.3H644.5" stroke="#505050" stroke-width="3.0" stroke-linecap="round" stroke-dasharray="13.4 18.26"/>
<text transform="translate(650.8 1032.9) scale(0.944 1)" font-size="29.3" text-anchor="start">PSO</text>
<rect x="995.6" y="796.7" width="776" height="672.9" fill="none" stroke="#000" stroke-width="2.7"/>
<path d="M1051.03 1469.6V1459.3M1161.89 1469.6V1459.3M1272.74 1469.6V1459.3M1383.6 1469.6V1459.3M1494.46 1469.6V1459.3M1605.31 1469.6V1459.3M1716.17 1469.6V1459.3M1106.46 1469.6V1464.2M1217.31 1469.6V1464.2M1328.17 1469.6V1464.2M1439.03 1469.6V1464.2M1549.89 1469.6V1464.2M1660.74 1469.6V1464.2M995.6 1469.6H1004.8M995.6 1402.31H1004.8M995.6 1335.02H1004.8M995.6 1267.73H1004.8M995.6 1200.44H1004.8M995.6 1133.15H1004.8M995.6 1065.86H1004.8M995.6 998.57H1004.8M995.6 931.28H1004.8M995.6 863.99H1004.8M995.6 796.7H1004.8M995.6 1435.95H1000.6M995.6 1368.66H1000.6M995.6 1301.38H1000.6M995.6 1234.09H1000.6M995.6 1166.8H1000.6M995.6 1099.5H1000.6M995.6 1032.21H1000.6M995.6 964.92H1000.6M995.6 897.63H1000.6M995.6 830.35H1000.6" stroke="#000" stroke-width="2.7" fill="none"/>
<text transform="translate(1051.03 1503.9) scale(0.92 1)" font-size="29" text-anchor="middle">0</text>
<text transform="translate(1161.89 1503.9) scale(0.92 1)" font-size="29" text-anchor="middle">500</text>
<text transform="translate(1272.74 1503.9) scale(0.92 1)" font-size="29" text-anchor="middle">1000</text>
<text transform="translate(1383.6 1503.9) scale(0.92 1)" font-size="29" text-anchor="middle">1500</text>
<text transform="translate(1494.46 1503.9) scale(0.92 1)" font-size="29" text-anchor="middle">2000</text>
<text transform="translate(1605.31 1503.9) scale(0.92 1)" font-size="29" text-anchor="middle">2500</text>
<text transform="translate(1716.17 1503.9) scale(0.92 1)" font-size="29" text-anchor="middle">3000</text>
<text transform="translate(984.6 1478.3) scale(0.92 1)" font-size="29" text-anchor="end">5</text>
<text transform="translate(984.6 1411.01) scale(0.92 1)" font-size="29" text-anchor="end">10</text>
<text transform="translate(984.6 1343.72) scale(0.92 1)" font-size="29" text-anchor="end">15</text>
<text transform="translate(984.6 1276.43) scale(0.92 1)" font-size="29" text-anchor="end">20</text>
<text transform="translate(984.6 1209.14) scale(0.92 1)" font-size="29" text-anchor="end">25</text>
<text transform="translate(984.6 1141.85) scale(0.92 1)" font-size="29" text-anchor="end">30</text>
<text transform="translate(984.6 1074.56) scale(0.92 1)" font-size="29" text-anchor="end">35</text>
<text transform="translate(984.6 1007.27) scale(0.92 1)" font-size="29" text-anchor="end">40</text>
<text transform="translate(984.6 939.98) scale(0.92 1)" font-size="29" text-anchor="end">45</text>
<text transform="translate(984.6 872.69) scale(0.92 1)" font-size="29" text-anchor="end">50</text>
<text transform="translate(984.6 805.4) scale(0.92 1)" font-size="29" text-anchor="end">55</text>
<text transform="translate(1350.2 1562.8) scale(0.946 1)" font-size="34.5" text-anchor="middle">t (min)</text>
<text transform="translate(935.6 1132.6) rotate(-90) scale(1 0.93)" font-size="34.2" text-anchor="middle">Q<tspan font-size="24.43" dy="9.38">e</tspan><tspan dy="-9.38"> (mg/g)</tspan></text>
<path d="M1052.14 1454.64L1053.55 1376.38L1055.15 1313.92L1056.97 1266.23L1057.98 1247.27L1059.07 1231.16L1060.22 1218.11L1061.48 1207.38L1062.88 1198.6L1064.45 1191.61L1066.21 1186.29L1068.24 1182.34L1069.38 1180.82L1070.63 1179.55L1072.03 1178.51L1073.59 1177.69L1076.59 1176.74L1080.49 1176.19L1085.84 1175.92L1094.9 1175.82L1689.57 1175.81" fill="none" stroke="#505050" stroke-width="3.0" stroke-linecap="round" stroke-linejoin="round"/>
<path d="M1052.14 1461.11L1053.09 1416.34L1054.16 1381.41L1055.4 1354.58L1056.84 1335.29L1057.63 1328.26L1058.49 1322.57L1059.46 1318L1060.56 1314.41L1061.8 1311.75L1063.24 1309.83L1064.98 1308.52L1067.2 1307.7L1071.9 1307.15L1082.21 1307.03L1689.57 1307.03" fill="none" stroke="#505050" stroke-width="3.0" stroke-linecap="round" stroke-linejoin="round"/>
<path d="M1052.14 1452.59L1052.92 1414.11L1053.8 1384.16L1054.8 1361.67L1055.99 1345.54L1057.34 1335.07L1058.15 1331.27L1059.06 1328.37L1060.08 1326.25L1061.31 1324.72L1062.79 1323.7L1064.69 1323.09L1068.54 1322.72L1077.21 1322.64L1689.57 1322.64" fill="none" stroke="#505050" stroke-width="3.0" stroke-linecap="round" stroke-linejoin="round"/>
<path d="M1052.14 1473.18L1053.09 1435.53L1054.16 1406.17L1055.4 1383.62L1056.84 1367.4L1057.63 1361.49L1058.49 1356.7L1059.46 1352.85L1060.56 1349.84L1061.8 1347.6L1063.24 1345.99L1064.98 1344.89L1067.2 1344.2L1071.9 1343.74L1082.21 1343.64L1689.57 1343.63" fill="none" stroke="#505050" stroke-width="3.0" stroke-linecap="round" stroke-linejoin="round"/>
<path d="M1052.14 1425.37L1053.45 1356.09L1054.27 1328.34L1055.22 1304.5L1056.32 1284.11L1057.6 1266.37L1059.09 1251.13L1060.82 1237.96L1062.82 1226.64L1065.14 1216.91L1067.84 1208.51L1070.98 1201.25L1074.61 1195.03L1076.64 1192.24L1078.84 1189.65L1081.2 1187.25L1083.74 1185.02L1086.48 1182.96L1089.43 1181.03L1096.04 1177.6L1103.76 1174.63L1112.67 1172.08L1122.92 1169.9L1134.89 1168.01L1148.87 1166.38L1164.97 1164.98L1183.73 1163.77L1205.42 1162.73L1230.71 1161.83L1294.05 1160.39L1379.48 1159.32L1494.46 1158.53" fill="none" stroke="#505050" stroke-width="3.0" stroke-linecap="round" stroke-linejoin="round" stroke-dasharray="13.4 18.26" stroke-dashoffset="14.65"/>
<path d="M1494.46 1158.53L1689.57 1157.83" fill="none" stroke="#505050" stroke-width="3.0" stroke-linecap="round" stroke-linejoin="round" stroke-dasharray="13.4 18.26" stroke-dashoffset="0.59"/>
<path d="M1052.14 1424.57L1053.05 1389.37L1054.31 1363.81L1055.12 1353.87L1056.07 1345.42L1057.2 1338.24L1058.51 1332.19L1060.07 1327.02L1061.9 1322.63L1064.06 1318.91L1066.6 1315.75L1069.6 1313.07L1073.11 1310.8L1077.26 1308.87L1082.15 1307.23L1087.92 1305.83L1094.71 1304.65L1102.69 1303.65L1112.14 1302.8L1136.22 1301.46L1169.76 1300.5L1216.2 1299.8L1280.74 1299.3L1494.46 1298.68" fill="none" stroke="#505050" stroke-width="3.0" stroke-linecap="round" stroke-linejoin="round" stroke-dasharray="13.4 18.26" stroke-dashoffset="9.08"/>
<path d="M1494.46 1298.68L1689.57 1298.48" fill="none" stroke="#505050" stroke-width="3.0" stroke-linecap="round" stroke-linejoin="round" stroke-dasharray="13.4 18.26" stroke-dashoffset="0.59"/>
<path d="M1052.14 1452.77L1053.23 1414.5L1054.73 1386.47L1055.67 1375.5L1056.78 1365.99L1058.08 1357.87L1059.59 1350.95L1061.36 1345.02L1063.43 1339.98L1065.83 1335.67L1068.66 1331.97L1071.96 1328.81L1075.82 1326.1L1080.34 1323.79L1085.63 1321.81L1091.78 1320.12L1098.96 1318.68L1107.48 1317.43L1117.33 1316.37L1128.91 1315.47L1142.35 1314.7L1176.55 1313.47L1223.39 1312.57L1287.4 1311.91L1374.82 1311.43L1494.46 1311.08" fill="none" stroke="#505050" stroke-width="3.0" stroke-linecap="round" stroke-linejoin="round" stroke-dasharray="13.4 18.26" stroke-dashoffset="29.74"/>
<path d="M1494.46 1311.08L1689.57 1310.79" fill="none" stroke="#505050" stroke-width="3.0" stroke-linecap="round" stroke-linejoin="round" stroke-dasharray="13.4 18.26" stroke-dashoffset="0.59"/>
<path d="M1052.14 1401.88L1052.81 1383.66L1053.78 1370.8L1055.15 1361.76L1056.04 1358.28L1057.1 1355.4L1058.36 1352.95L1059.86 1350.92L1061.65 1349.21L1063.79 1347.77L1066.34 1346.56L1069.36 1345.55L1072.98 1344.7L1077.29 1343.98L1088.55 1342.88L1104.55 1342.11L1127.31 1341.56L1159.51 1341.18L1270.5 1340.72L1494.46 1340.49" fill="none" stroke="#505050" stroke-width="3.0" stroke-linecap="round" stroke-linejoin="round" stroke-dasharray="13.4 18.26" stroke-dashoffset="24.13"/>
<path d="M1494.46 1340.49L1689.57 1340.42" fill="none" stroke="#505050" stroke-width="3.0" stroke-linecap="round" stroke-linejoin="round" stroke-dasharray="13.4 18.26" stroke-dashoffset="0.59"/>
<g fill="#505050"><rect x="1044.89" y="1379.45" width="14.5" height="14.5"/><rect x="1046" y="1361.41" width="14.5" height="14.5"/><rect x="1050.43" y="1321.04" width="14.5" height="14.5"/><rect x="1057.08" y="1306.24" width="14.5" height="14.5"/><rect x="1063.73" y="1302.2" width="14.5" height="14.5"/><rect x="1070.38" y="1298.16" width="14.5" height="14.5"/><rect x="1096.99" y="1292.51" width="14.5" height="14.5"/><rect x="1150.2" y="1285.78" width="14.5" height="14.5"/><rect x="1203.41" y="1287.93" width="14.5" height="14.5"/><rect x="1363.05" y="1285.78" width="14.5" height="14.5"/><rect x="1682.32" y="1290.09" width="14.5" height="14.5"/></g>
<g fill="#505050"><circle cx="1052.14" cy="1441.61" r="7.6"/><circle cx="1053.25" cy="1407.29" r="7.6"/><circle cx="1057.68" cy="1392.49" r="7.6"/><circle cx="1064.33" cy="1362.74" r="7.6"/><circle cx="1070.98" cy="1335.29" r="7.6"/><circle cx="1077.63" cy="1327.21" r="7.6"/><circle cx="1104.24" cy="1316.99" r="7.6"/><circle cx="1157.45" cy="1304.34" r="7.6"/><circle cx="1210.66" cy="1299.76" r="7.6"/><circle cx="1370.3" cy="1308.91" r="7.6"/><circle cx="1689.57" cy="1308.1" r="7.6"/></g>
<g fill="#505050"><path d="M1052.14 1367.14L1061.29 1384.14L1042.99 1384.14Z"/><path d="M1053.25 1346.68L1062.4 1363.68L1044.1 1363.68Z"/><path d="M1057.68 1302.13L1066.83 1319.13L1048.53 1319.13Z"/><path d="M1064.33 1217.35L1073.48 1234.35L1055.18 1234.35Z"/><path d="M1070.98 1201.33L1080.13 1218.33L1061.83 1218.33Z"/><path d="M1077.63 1176.3L1086.78 1193.3L1068.48 1193.3Z"/><path d="M1104.24 1160.29L1113.39 1177.29L1095.09 1177.29Z"/><path d="M1157.45 1147.64L1166.6 1164.64L1148.3 1164.64Z"/><path d="M1210.66 1144.14L1219.81 1161.14L1201.51 1161.14Z"/><path d="M1370.3 1139.7L1379.45 1156.7L1361.15 1156.7Z"/><path d="M1689.57 1137.81L1698.72 1154.81L1680.42 1154.81Z"/></g>
<g fill="#505050"><path d="M1042.99 1373.04L1061.29 1373.04L1052.14 1390.04Z"/><path d="M1044.1 1368.59L1062.4 1368.59L1053.25 1385.59Z"/><path d="M1048.53 1363.88L1066.83 1363.88L1057.68 1380.88Z"/><path d="M1055.18 1348.41L1073.48 1348.41L1064.33 1365.41Z"/><path d="M1061.83 1341.68L1080.13 1341.68L1070.98 1358.68Z"/><path d="M1068.48 1336.43L1086.78 1336.43L1077.63 1353.43Z"/><path d="M1095.09 1332.93L1113.39 1332.93L1104.24 1349.93Z"/><path d="M1148.3 1332.93L1166.6 1332.93L1157.45 1349.93Z"/><path d="M1201.51 1332.93L1219.81 1332.93L1210.66 1349.93Z"/><path d="M1361.15 1330.78L1379.45 1330.78L1370.3 1347.78Z"/><path d="M1680.42 1330.37L1698.72 1330.37L1689.57 1347.37Z"/></g>
<g fill="#505050"><rect x="1489.75" y="825.45" width="14.5" height="14.5"/></g>
<text transform="translate(1534 842.3) scale(0.944 1)" font-size="29.3" text-anchor="start">Single-Cd-CCB350</text>
<g fill="#505050"><circle cx="1497" cy="868.8" r="7.6"/></g>
<text transform="translate(1534 878.4) scale(0.944 1)" font-size="29.3" text-anchor="start">Binary-Cd-CCB350</text>
<g fill="#505050"><path d="M1497 893.57L1506.15 910.57L1487.85 910.57Z"/></g>
<text transform="translate(1534 914.5) scale(0.944 1)" font-size="29.3" text-anchor="start">Single-Cd-CCB650</text>
<g fill="#505050"><path d="M1487.85 935.33L1506.15 935.33L1497 952.33Z"/></g>
<text transform="translate(1534 950.6) scale(0.944 1)" font-size="29.3" text-anchor="start">Binary-Cd-CCB650</text>
<path d="M1473.1 976.7H1534.5" stroke="#505050" stroke-width="3.0" stroke-linecap="round"/>
<text transform="translate(1540.8 986.3) scale(0.944 1)" font-size="29.3" text-anchor="start">PFO</text>
<path d="M1473.1 1013.4H1534.5" stroke="#505050" stroke-width="3.0" stroke-linecap="round" stroke-dasharray="13.4 18.26"/>
<text transform="translate(1540.8 1023) scale(0.944 1)" font-size="29.3" text-anchor="start">PSO</text>
</svg>
</body></html>
